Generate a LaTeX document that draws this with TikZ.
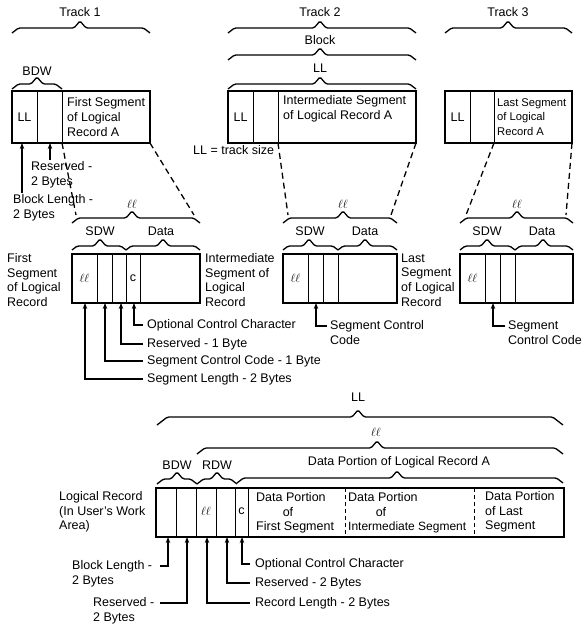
\documentclass[tikz,border=0pt]{standalone}
\usepackage{fontspec}
\setmainfont{Liberation Sans}
\usetikzlibrary{arrows.meta}
\newcommand\mybrace[5]{\draw[br] (#1,#4+#5) -- (#1+1.3*#5,#4) -- (#3-6,#4) -- (#3,#4-7) -- (#3+6,#4) -- (#2-1.3*#5,#4) -- (#2,#4+#5);}
\begin{document}
\begin{tikzpicture}[x=1pt,y=-1pt,
  txt/.style={inner sep=0pt, font=\fontsize{12.5}{14.6}\selectfont},
  lt/.style={txt, anchor=west, align=left},
  bx/.style={line width=1.4pt},
  dv/.style={line width=0.9pt},
  br/.style={line width=1.3pt, rounded corners=1.5pt},
  dsh/.style={line width=1.3pt, dash pattern=on 6pt off 4pt},
  thindsh/.style={line width=0.8pt, dash pattern=on 4pt off 3pt},
  ar/.style={line width=1.3pt, -{Stealth[length=6pt,width=4.5pt]}},
]
\useasboundingbox (0,0) rectangle (588,624);

% ---------- top labels and braces ----------
\node[txt] (t1) at (80,12) {Track 1};
\node[txt] (t2) at (320,12) {Track 2};
\node[txt] (t3) at (508,12) {Track 3};
\node[txt] (blk) at (320,40) {Block};
\node[txt] (ll2) at (320,68) {LL};
\node[txt] (bdw1) at (37,71) {BDW};
\mybrace{12}{150}{80}{28}{5}
\mybrace{228}{416}{320}{28}{5}
\mybrace{445}{572}{508}{28}{5}
\mybrace{228}{416}{320}{55}{5}
\mybrace{228}{416}{320}{84}{5}
\mybrace{12}{62}{37}{84}{5}

% ---------- track blocks ----------
\draw[bx] (12,91) rectangle (150,143);
\draw[dv] (37,91) -- (37,143) (62,91) -- (62,143);
\draw[bx] (228,91) rectangle (416,143);
\draw[dv] (253,91) -- (253,143) (278,91) -- (278,143);
\draw[bx] (445,91) rectangle (572,143);
\draw[dv] (470,91) -- (470,143) (494,91) -- (494,143);

\node[txt] at (24.5,117) {LL};
\node[txt] at (240.5,117) {LL};
\node[txt] at (457.5,117) {LL};
\node[lt] at (67,117) {First Segment\\of Logical\\Record A};
\node[lt] at (283,108.5) {Intermediate Segment\\of Logical Record A};
\node[lt, font=\fontsize{11.2}{14.6}\selectfont] at (497,117) {Last Segment\\of Logical\\Record A};

\node[lt] (res1) at (31,174.5) {Reserved -\\2 Bytes};
\node[lt] (bl1) at (13,208) {Block Length -\\2 Bytes};
\draw[ar] (22,193) -- (22,143);
\draw[ar] (50,160) -- (50,143);
\node[lt] at (193,150) {LL = track size};

% dashed expansion lines
\draw[dsh] (62,143) -- (76,215);
\draw[dsh] (150,143) -- (194,215);
\draw[dsh] (278,143) -- (288,215);
\draw[dsh] (416,143) -- (391,215);
\draw[dsh] (494,143) -- (466,215);
\draw[dsh] (572,143) -- (566,215);

% ---------- segment level ----------
\node[txt] at (132,204) {$\ell\ell$};
\node[txt] at (343,204) {$\ell\ell$};
\node[txt] at (517,204) {$\ell\ell$};
\mybrace{72}{200}{132}{218}{5}
\mybrace{283}{397}{343}{218}{5}
\mybrace{460}{573}{517}{218}{5}

\node[txt] at (100,231) {SDW};
\node[txt] at (161,231) {Data};
\node[txt] at (310,231) {SDW};
\node[txt] at (365,231) {Data};
\node[txt] at (487,231) {SDW};
\node[txt] at (542,231) {Data};
\mybrace{72}{126}{100}{246}{4}
\mybrace{126}{200}{163}{246}{4}
\mybrace{283}{338}{309}{246}{4}
\mybrace{338}{397}{365}{246}{4}
\mybrace{460}{515}{487}{246}{4}
\mybrace{515}{573}{543}{246}{4}

\draw[bx] (72,254) rectangle (200,303);
\draw[dv] (97,254) -- (97,303) (112,254) -- (112,303) (126,254) -- (126,303) (140,254) -- (140,303);
\draw[bx] (283,254) rectangle (397,303);
\draw[dv] (308,254) -- (308,303) (323,254) -- (323,303) (338,254) -- (338,303);
\draw[bx] (460,254) rectangle (573,303);
\draw[dv] (485,254) -- (485,303) (500,254) -- (500,303) (515,254) -- (515,303);

\node[txt] at (84.5,278) {$\ell\ell$};
\node[txt] at (133,278) {c};
\node[txt] at (295.5,278) {$\ell\ell$};
\node[txt] at (472.5,278) {$\ell\ell$};

\node[lt] at (7,280) {First\\Segment\\of Logical\\Record};
\node[lt] at (205,280) {Intermediate\\Segment of\\Logical\\Record};
\node[lt] at (401,280) {Last\\Segment\\of Logical\\Record};

\node[lt] (occ1) at (147,325) {Optional Control Character};
\node[lt] (rs1) at (147,344) {Reserved - 1 Byte};
\node[lt] (scc1) at (147,361) {Segment Control Code - 1 Byte};
\node[lt] (sl1) at (147,379) {Segment Length - 2 Bytes};
\draw[ar] (143,325) -| (134,303);
\draw[ar] (143,344) -| (121,303);
\draw[ar] (143,361) -| (105,303);
\draw[ar] (143,379) -| (85,303);

\node[lt] (scc2) at (330,332.5) {Segment Control\\Code};
\draw[ar] (327,326) -| (316,303);
\node[lt] (scc3) at (508,332.5) {Segment\\Control Code};
\draw[ar] (505,326) -| (493,303);

% ---------- logical record ----------
\node[txt] at (358,397) {LL};
\mybrace{157}{563}{358}{417}{8}
\node[txt] at (376,432) {$\ell\ell$};
\mybrace{197}{563}{377}{448}{6}
\node[txt] at (399,462) {Data Portion of Logical Record A};
\mybrace{237}{563}{397}{478}{5}
\node[txt] at (177,465) {BDW};
\node[txt] at (217,465) {RDW};
\mybrace{157}{197}{177}{479}{5}
\mybrace{197}{237}{217}{479}{5}

\draw[bx] (156,488) rectangle (564,537);
\draw[dv] (176,488) -- (176,537) (196,488) -- (196,537) (216,488) -- (216,537)
          (235,488) -- (235,537) (248,488) -- (248,537);
\draw[thindsh] (345,488) -- (345,537) (474,488) -- (474,537);

\node[txt] at (206,511) {$\ell\ell$};
\node[txt] at (241.5,511) {c};
\node[lt] at (256,497) {Data Portion};
\node[txt] at (288,512) {of};
\node[lt] at (256,527) {First Segment};
\node[lt] at (348,497) {Data Portion};
\node[txt] at (381,512) {of};
\node[lt, font=\fontsize{12}{14.6}\selectfont] at (348,527) {Intermediate Segment};
\node[lt] at (485,512) {Data Portion\\of Last\\Segment};

\node[lt] at (59,512) {Logical Record\\(In User's Work\\Area)};

\node[lt] (occ4) at (255,564) {Optional Control Character};
\node[lt] (rs4) at (255,583) {Reserved - 2 Bytes};
\node[lt] (rl4) at (255,603) {Record Length - 2 Bytes};
\draw[ar] (250,564) -| (242,537);
\draw[ar] (250,583) -| (227,537);
\draw[ar] (250,603) -| (207,537);

\node[lt] (bl4) at (72,573.5) {Block Length -\\2 Bytes};
\node[lt] (rv4) at (93,610.5) {Reserved -\\2 Bytes};
\draw[ar] (160,566) -| (168,537);
\draw[ar] (160,603) -| (187,537);
\end{tikzpicture}
\end{document}
